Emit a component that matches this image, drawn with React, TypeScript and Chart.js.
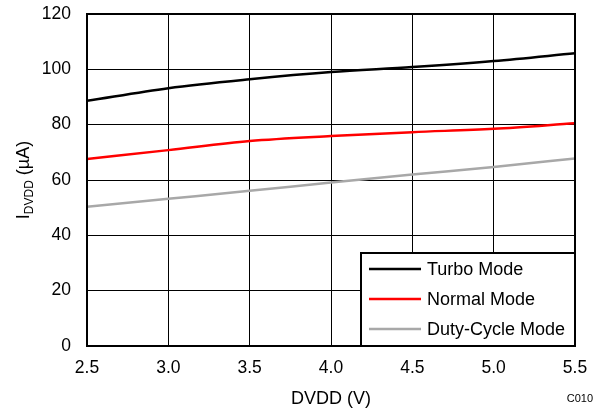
import React, { useEffect, useRef } from 'react';
import { Chart, registerables } from 'chart.js';

Chart.register(...registerables);

const voltages = [2.5, 3.0, 3.5, 4.0, 4.5, 5.0, 5.5];
const turboMode = [88.6, 93.2, 96.4, 99.0, 100.8, 103.0, 105.8];
const normalMode = [67.6, 70.8, 74.1, 75.9, 77.3, 78.5, 80.5];
const dutyCycleMode = [50.3, 53.2, 56.1, 59.1, 62.0, 64.7, 67.8];
const seriesNames = ['Turbo Mode', 'Normal Mode', 'Duty-Cycle Mode'];
const seriesColors = ['#000000', '#ff0000', '#a8a8a8'];
const xTickValues = [2.5, 3.0, 3.5, 4.0, 4.5, 5.0, 5.5];
const yTickValues = [0, 20, 40, 60, 80, 100, 120];
const xTitle = 'DVDD (V)';
const yTitleMain = 'I';
const yTitleSub = 'DVDD';
const yTitleUnit = ' (µA)';
const chartCode = 'C010';

const FONT = '"Liberation Sans", Arial, sans-serif';

const overlayPlugin = {
  id: 'overlay',
  afterDatasetsDraw(chart: any) {
    const { ctx, chartArea: a } = chart;
    ctx.save();
    // frame
    ctx.strokeStyle = '#000';
    ctx.lineWidth = 2;
    ctx.strokeRect(a.left, a.top, a.right - a.left, a.bottom - a.top);

    // legend
    const lw = 214;
    const lh = 93;
    const lx = a.right - lw;
    const ly = a.bottom - lh;
    ctx.fillStyle = '#fff';
    ctx.fillRect(lx, ly, lw, lh);
    ctx.strokeRect(lx, ly, lw, lh);
    ctx.font = `18px ${FONT}`;
    ctx.textBaseline = 'middle';
    ctx.textAlign = 'left';
    chart.data.datasets.forEach((ds: any, i: number) => {
      const y = ly + 16 + i * 30;
      ctx.strokeStyle = ds.borderColor;
      ctx.lineWidth = 2.5;
      ctx.beginPath();
      ctx.moveTo(lx + 8, y);
      ctx.lineTo(lx + 60, y);
      ctx.stroke();
      ctx.fillStyle = '#000';
      ctx.fillText(ds.label, lx + 66, y + 1);
    });

    // x title
    ctx.fillStyle = '#000';
    ctx.textAlign = 'center';
    ctx.textBaseline = 'alphabetic';
    ctx.font = `18px ${FONT}`;
    ctx.fillText(xTitle, (a.left + a.right) / 2, 403.5);

    // code
    ctx.font = `11px ${FONT}`;
    ctx.textAlign = 'right';
    ctx.fillText(chartCode, 593, 401.5);

    // y title with subscript
    const cy = (a.top + a.bottom) / 2;
    ctx.save();
    ctx.translate(29, cy);
    ctx.rotate(-Math.PI / 2);
    ctx.textAlign = 'left';
    ctx.font = `18px ${FONT}`;
    const w1 = ctx.measureText(yTitleMain).width;
    const w3 = ctx.measureText(yTitleUnit).width;
    ctx.font = `12px ${FONT}`;
    const w2 = ctx.measureText(yTitleSub).width;
    const total = w1 + w2 + w3;
    let x = -total / 2;
    ctx.font = `18px ${FONT}`;
    ctx.fillText(yTitleMain, x, 0);
    x += w1;
    ctx.font = `12px ${FONT}`;
    ctx.fillText(yTitleSub, x, 4);
    x += w2;
    ctx.font = `18px ${FONT}`;
    ctx.fillText(yTitleUnit, x, 0);
    ctx.restore();

    ctx.restore();
  },
};

export default function App() {
  const canvasRef = useRef<HTMLCanvasElement | null>(null);

  useEffect(() => {
    const canvas = canvasRef.current;
    if (!canvas) return;
    const makeData = (vals: number[]) => voltages.map((v, i) => ({ x: v, y: vals[i] }));
    const all = [turboMode, normalMode, dutyCycleMode];
    const chart = new Chart(canvas, {
      type: 'line',
      data: {
        datasets: all.map((vals, i) => ({
          label: seriesNames[i],
          data: makeData(vals),
          borderColor: seriesColors[i],
          backgroundColor: seriesColors[i],
          borderWidth: 2.5,
          pointRadius: 0,
          fill: false,
          cubicInterpolationMode: 'monotone' as const,
        })),
      },
      options: {
        responsive: false,
        animation: false,
        devicePixelRatio: 1,
        layout: { padding: { top: 14, right: 25, left: 0, bottom: 0 } },
        plugins: {
          legend: { display: false },
          tooltip: { enabled: false },
        },
        scales: {
          x: {
            type: 'linear',
            min: 2.5,
            max: 5.5,
            afterBuildTicks: (scale: any) => {
              scale.ticks = xTickValues.map((v) => ({ value: v }));
            },
            afterFit: (scale: any) => {
              scale.height = 62;
              scale.paddingLeft = 0;
              scale.paddingRight = 0;
            },
            ticks: {
              color: '#000',
              font: { family: FONT, size: 17.5 },
              padding: 12,
              maxRotation: 0,
              callback: (v: any) => Number(v).toFixed(1),
            },
            grid: { color: '#000', lineWidth: 1, drawTicks: false },
            border: { display: false },
          },
          y: {
            type: 'linear',
            min: 0,
            max: 120,
            afterBuildTicks: (scale: any) => {
              scale.ticks = yTickValues.map((v) => ({ value: v }));
            },
            afterFit: (scale: any) => {
              scale.width = 87;
              scale.paddingTop = 0;
              scale.paddingBottom = 0;
            },
            ticks: {
              color: '#000',
              font: { family: FONT, size: 17.5 },
              padding: 16,
              callback: (v: any) => String(v),
            },
            grid: { color: '#000', lineWidth: 1, drawTicks: false },
            border: { display: false },
          },
        },
      },
      plugins: [overlayPlugin],
    });
    return () => chart.destroy();
  }, []);

  return (
    <div style={{ position: 'absolute', left: 0, top: 0, width: 600, height: 408, background: '#fff' }}>
      <canvas ref={canvasRef} width={600} height={408} style={{ width: 600, height: 408, display: 'block' }} />
    </div>
  );
}
